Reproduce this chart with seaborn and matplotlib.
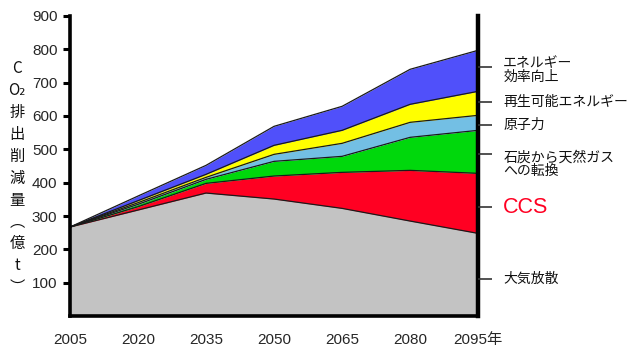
import matplotlib
matplotlib.use("Agg")
import matplotlib.pyplot as plt
import seaborn as sb
import numpy as np
import pandas as pd

# Data (layer thickness, 100 million t CO2)
years = [2005, 2020, 2035, 2050, 2065, 2080, 2095]
atmosphere = [267, 318, 369, 351, 323, 285, 248]
ccs = [0, 10, 29, 69, 108, 152, 180]
coal_to_gas = [0, 7, 12, 44, 48, 99, 129]
nuclear = [0, 5, 6, 21, 39, 45, 45]
renewables = [0, 6, 9, 27, 39, 54, 72]
efficiency = [0, 14, 27, 57, 72, 105, 123]

layer_names = ['大気放散', 'CCS', '石炭から天然ガス\nへの転換', '原子力', '再生可能エネルギー', 'エネルギー\n効率向上']
layer_colors = ['#c3c3c3', '#ff0022', '#00d80c', '#73bfe4', '#ffff00', '#5050fa']
x_labels = ['2005', '2020', '2035', '2050', '2065', '2080', '2095年']
y_ticks = [100, 200, 300, 400, 500, 600, 700, 800, 900]

df = pd.DataFrame({'year': years, 'atmosphere': atmosphere, 'ccs': ccs,
                   'coal_to_gas': coal_to_gas, 'nuclear': nuclear,
                   'renewables': renewables, 'efficiency': efficiency})
layers = ['atmosphere', 'ccs', 'coal_to_gas', 'nuclear', 'renewables', 'efficiency']
cum = df[layers].cumsum(axis=1)

sb.set_style("white")
jp = ['Noto Sans CJK JP', 'DejaVu Sans']
latin = ['Liberation Sans', 'Noto Sans CJK JP']
plt.rcParams['font.family'] = jp

fig = plt.figure(figsize=(6.3, 3.54), dpi=100)
ax = fig.add_axes([0.111, 0.107, 0.648, 0.848])

ax.stackplot(df['year'], [df[c] for c in layers], colors=layer_colors, linewidth=0)
for c in layers:
    sb.lineplot(x=df['year'], y=cum[c], ax=ax, color='#1a1a1a', linewidth=0.9, legend=False)

ax.set_xlim(2005, 2095)
ax.set_ylim(0, 900)
ax.set_xticks(years)
ax.set_xticklabels(x_labels, family=latin, fontsize=11)
ax.set_yticks(y_ticks)
ax.set_yticklabels([str(v) for v in y_ticks], family=latin, fontsize=11)
ax.set_xlabel('')
ax.set_ylabel('')
ax.tick_params(axis='both', direction='out', length=5, width=2.2, color='black', pad=4)
ax.tick_params(axis='x', pad=7)

for side in ['left', 'bottom']:
    ax.spines[side].set_linewidth(2.6)
    ax.spines[side].set_color('black')
ax.spines['right'].set_linewidth(3.2)
ax.spines['right'].set_color('black')
ax.spines['top'].set_visible(False)

# right-side labels with leader ticks
label_pos = [111, 327, 485, 572, 641, 746]
label_dy = [0, 0, -7, 0, 0, -2]
ax2 = ax.twinx()
ax2.set_ylim(0, 900)
ax2.set_yticks(label_pos)
ax2.set_yticklabels([''] * len(label_pos))
ax2.tick_params(axis='y', direction='out', length=10, width=1.2, color='#333333')
for s in ax2.spines.values():
    s.set_visible(False)
for name, pos, dy in zip(layer_names, label_pos, label_dy):
    if name == 'CCS':
        ax2.annotate(name, xy=(1, pos), xycoords=('axes fraction', 'data'),
                     xytext=(18, dy), textcoords='offset points', va='center', ha='left',
                     color='#ff0022', fontsize=15.5, family=latin)
    else:
        ax2.annotate(name, xy=(1, pos), xycoords=('axes fraction', 'data'),
                     xytext=(18, dy), textcoords='offset points', va='center', ha='left',
                     color='#111111', fontsize=10, linespacing=0.95, family=jp)

ylabel = 'C\nO₂\n排\n出\n削\n減\n量\n︵\n億\nt\n︶'
fig.text(0.027, 0.497, ylabel, ha='center', va='center', multialignment='center',
         fontsize=11, linespacing=1.38, family=jp, color='#111111')

fig.savefig('out.png', dpi=100)
